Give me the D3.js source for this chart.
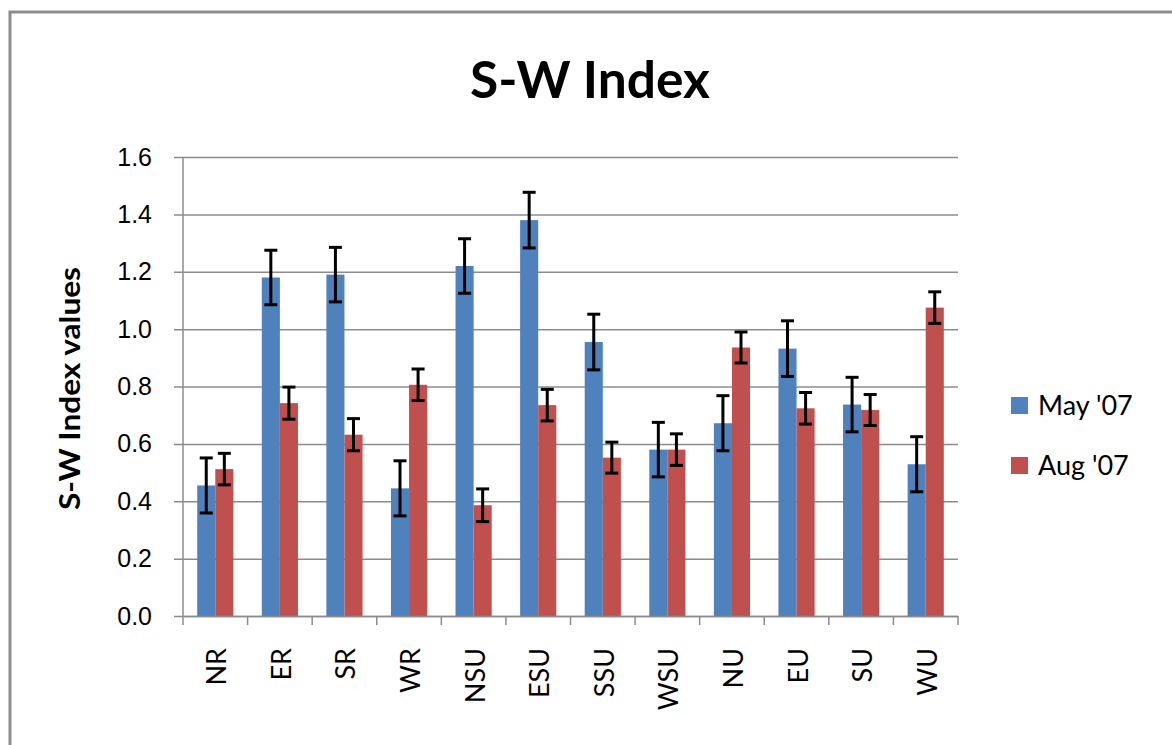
<!DOCTYPE html>
<html>
<head>
<meta charset="utf-8">
<script src="https://cdn.jsdelivr.net/npm/d3@7"></script>
<style>
  body { margin: 0; background: #fff; }
  svg { font-family: Lato, "Open Sans", sans-serif; }
</style>
</head>
<body>
<div id="chart"></div>
<script>
// data
var categories = ["NR", "ER", "SR", "WR", "NSU", "ESU", "SSU", "WSU", "NU", "EU", "SU", "WU"];
var seriesNames = ["May '07", "Aug '07"];
var mayValues = [0.455, 1.18, 1.19, 0.445, 1.22, 1.38, 0.955, 0.58, 0.672, 0.932, 0.737, 0.529];
var augValues = [0.512, 0.742, 0.632, 0.806, 0.386, 0.735, 0.552, 0.580, 0.936, 0.724, 0.718, 1.075];
var mayErrors = [0.096, 0.095, 0.095, 0.096, 0.095, 0.097, 0.097, 0.095, 0.096, 0.097, 0.095, 0.096];
var augErrors = [0.055, 0.056, 0.056, 0.055, 0.057, 0.055, 0.054, 0.055, 0.054, 0.055, 0.054, 0.055];
var yTicks = [0, 0.2, 0.4, 0.6, 0.8, 1.0, 1.2, 1.4, 1.6];

var colors = ["#4F81BD", "#C0504D"];

var svgWidth = 1172;
var svgHeight = 745;
var margin = { top: 157, right: 214, bottom: 129, left: 183 };
var width = svgWidth - margin.left - margin.right;
var height = svgHeight - margin.top - margin.bottom;

var svg = d3.select("#chart")
  .append("svg")
  .attr("width", svgWidth)
  .attr("height", svgHeight);

// outer chart frame
svg.append("rect")
  .attr("x", 10)
  .attr("y", 12)
  .attr("width", 1200)
  .attr("height", 800)
  .attr("fill", "none")
  .attr("stroke", "#8c8c8c")
  .attr("stroke-width", 3);

var chartGroup = svg.append("g")
  .attr("transform", `translate(${margin.left}, ${margin.top})`);

var xScale = d3.scaleBand()
  .domain(categories)
  .range([0, width])
  .paddingInner(0)
  .paddingOuter(0);

var groupPad = 0.22; // fraction of band left empty on each side
var xInner = d3.scaleBand()
  .domain([0, 1])
  .range([xScale.bandwidth() * groupPad, xScale.bandwidth() * (1 - groupPad)]);

var yScale = d3.scaleLinear()
  .domain([0, 1.6])
  .range([height, 0]);

// gridlines + y axis
var leftAxis = d3.axisLeft(yScale)
  .tickValues(yTicks)
  .tickSize(-width)
  .tickPadding(31)
  .tickFormat(d3.format(".1f"));

var yAxisG = chartGroup.append("g").call(leftAxis);
yAxisG.select(".domain").remove();
yAxisG.selectAll(".tick line")
  .attr("x1", -9)
  .attr("stroke", "#8c8c8c")
  .attr("stroke-width", 1.5);
yAxisG.selectAll(".tick text")
  .attr("font-size", 25)
  .attr("fill", "#000");

// y axis line
chartGroup.append("line")
  .attr("x1", 0).attr("x2", 0)
  .attr("y1", 0).attr("y2", height)
  .attr("stroke", "#8c8c8c")
  .attr("stroke-width", 1.5);

// bars
var rows = categories.map(function(c, i) {
  return [
    { cat: c, s: 0, value: mayValues[i], err: mayErrors[i] },
    { cat: c, s: 1, value: augValues[i], err: augErrors[i] }
  ];
});

var groups = chartGroup.selectAll(".cat")
  .data(rows)
  .enter()
  .append("g")
  .attr("class", "cat")
  .attr("transform", d => `translate(${xScale(d[0].cat)}, 0)`);

groups.selectAll("rect")
  .data(d => d)
  .enter()
  .append("rect")
  .attr("x", d => xInner(d.s))
  .attr("width", xInner.bandwidth())
  .attr("y", d => yScale(d.value))
  .attr("height", d => height - yScale(d.value))
  .attr("fill", d => colors[d.s]);

// x axis line and ticks
var bottomAxis = d3.axisBottom(xScale).tickSize(0).tickFormat("");
var xAxisG = chartGroup.append("g")
  .attr("transform", `translate(0, ${height})`)
  .call(bottomAxis);
xAxisG.select(".domain")
  .attr("stroke", "#8c8c8c")
  .attr("stroke-width", 1.5);

var boundaries = categories.map(c => xScale(c)).concat([width]);
xAxisG.selectAll(".sep")
  .data(boundaries)
  .enter()
  .append("line")
  .attr("x1", d => d).attr("x2", d => d)
  .attr("y1", 0).attr("y2", 9)
  .attr("stroke", "#8c8c8c")
  .attr("stroke-width", 1.5);

// error bars
var capHalf = 6.5;
var errG = groups.selectAll(".err")
  .data(d => d)
  .enter()
  .append("g")
  .attr("class", "err")
  .attr("stroke", "#000")
  .attr("stroke-width", 3);

errG.append("line")
  .attr("x1", d => xInner(d.s) + xInner.bandwidth() / 2)
  .attr("x2", d => xInner(d.s) + xInner.bandwidth() / 2)
  .attr("y1", d => yScale(d.value + d.err))
  .attr("y2", d => yScale(d.value - d.err));

errG.append("line")
  .attr("x1", d => xInner(d.s) + xInner.bandwidth() / 2 - capHalf)
  .attr("x2", d => xInner(d.s) + xInner.bandwidth() / 2 + capHalf)
  .attr("y1", d => yScale(d.value + d.err))
  .attr("y2", d => yScale(d.value + d.err));

errG.append("line")
  .attr("x1", d => xInner(d.s) + xInner.bandwidth() / 2 - capHalf)
  .attr("x2", d => xInner(d.s) + xInner.bandwidth() / 2 + capHalf)
  .attr("y1", d => yScale(d.value - d.err))
  .attr("y2", d => yScale(d.value - d.err));

// category labels, rotated
chartGroup.selectAll(".xlabel")
  .data(categories)
  .enter()
  .append("text")
  .attr("class", "xlabel")
  .attr("transform", d => `translate(${xScale(d) + xScale.bandwidth() / 2 + 11}, ${height + 32}) rotate(-90)`)
  .attr("text-anchor", "end")
  .attr("font-size", 27)
  .attr("fill", "#000")
  .text(d => d);

// title
svg.append("text")
  .attr("x", 590)
  .attr("y", 98)
  .attr("text-anchor", "middle")
  .attr("font-size", 52)
  .attr("font-weight", "bold")
  .attr("textLength", 240)
  .attr("lengthAdjust", "spacingAndGlyphs")
  .text("S-W Index");

// y axis title
svg.append("text")
  .attr("transform", `translate(80, ${margin.top + height / 2 + 2}) rotate(-90)`)
  .attr("text-anchor", "middle")
  .attr("font-size", 28)
  .attr("font-weight", "bold")
  .attr("textLength", 243)
  .attr("lengthAdjust", "spacingAndGlyphs")
  .text("S-W Index values");

// legend
var legend = svg.append("g")
  .attr("transform", "translate(1011, 397)");

var legendItems = legend.selectAll(".li")
  .data(seriesNames)
  .enter()
  .append("g")
  .attr("transform", (d, i) => `translate(0, ${i * 60})`);

legendItems.append("rect")
  .attr("width", 17)
  .attr("height", 17)
  .attr("fill", (d, i) => colors[i]);

legendItems.append("text")
  .attr("x", 27)
  .attr("y", 18)
  .attr("font-size", 27)
  .text(d => d);
</script>
</body>
</html>
